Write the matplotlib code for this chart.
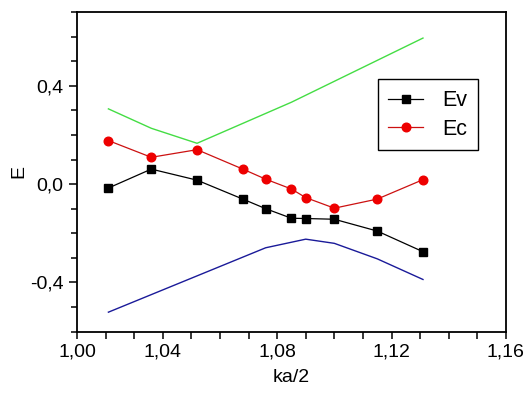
import numpy as np
import matplotlib
matplotlib.use('Agg')
from matplotlib import pyplot as plt
from matplotlib.ticker import MultipleLocator, FixedLocator

plt.rcParams['font.family'] = ['Liberation Sans', 'DejaVu Sans']

# data
ka2 = [1.021, 1.036, 1.052, 1.068, 1.076, 1.085, 1.090, 1.100, 1.115, 1.131]
ev = [-0.016, 0.061, 0.016, -0.061, -0.100, -0.139, -0.140, -0.143, -0.191, -0.275]
ec = [0.177, 0.109, 0.140, 0.061, 0.020, -0.020, -0.055, -0.098, -0.061, 0.018]

green_x = [1.021, 1.036, 1.052, 1.085, 1.131]
green_y = [0.306, 0.227, 0.166, 0.333, 0.594]
blue_x = [1.021, 1.076, 1.090, 1.100, 1.115, 1.131]
blue_y = [-0.521, -0.259, -0.224, -0.241, -0.304, -0.388]

xticks = [1.01, 1.04, 1.08, 1.12, 1.16]
xlabels = ['1,00', '1,04', '1,08', '1,12', '1,16']
yticks = [-0.4, 0.0, 0.4]
ylabels = ['-0,4', '0,0', '0,4']

fig = plt.figure(figsize=(5.27, 4), dpi=100)
ax = fig.add_axes([0.146, 0.171, 0.814, 0.799])

ax.plot(green_x, green_y, color='#44dd44', lw=1.0)
ax.plot(blue_x, blue_y, color='#1a1a99', lw=1.0)
ax.plot(ka2, ev, color='black', lw=0.9, marker='s', ms=5.5, label='Ev')
ax.plot(ka2, ec, color='#cc1111', lw=0.9, marker='o', ms=6.2,
        mfc='#ee0000', mec='#ee0000', label='Ec')

ax.set_xlim(1.01, 1.16)
ax.set_ylim(-0.6, 0.7)
ax.xaxis.set_major_locator(FixedLocator(xticks))
ax.set_xticklabels(xlabels)
ax.xaxis.set_minor_locator(MultipleLocator(0.01))
ax.yaxis.set_major_locator(FixedLocator(yticks))
ax.set_yticklabels(ylabels)
ax.yaxis.set_minor_locator(MultipleLocator(0.1))

ax.tick_params(which='both', direction='out', width=1.1, labelsize=14, top=False, right=False)
ax.tick_params(axis='x', which='both', length=5)
ax.tick_params(axis='y', which='major', length=6)
ax.tick_params(axis='y', which='minor', length=4)
for s in ax.spines.values():
    s.set_linewidth(1.3)

ax.set_xlabel('ka/2', fontsize=14, labelpad=6)
ax.set_ylabel('E', fontsize=14, labelpad=2)

leg = ax.legend(loc='upper right', bbox_to_anchor=(0.935, 0.789), borderaxespad=0,
                fontsize=15.5, fancybox=False, edgecolor='black', framealpha=1,
                handlelength=1.6, borderpad=0.5, labelspacing=0.35, handletextpad=0.9)
leg.get_frame().set_linewidth(1.0)

fig.savefig('out.png', dpi=100)
